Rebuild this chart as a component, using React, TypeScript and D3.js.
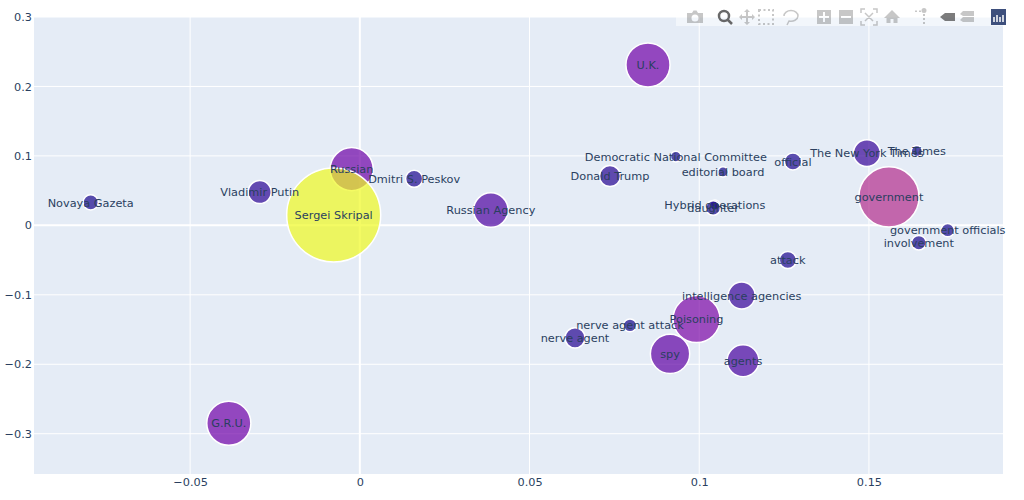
import { useRef, useEffect } from "react";
import * as d3 from "d3";

const WIDTH = 1024;
const HEIGHT = 500;
const margin = { top: 17, right: 21, bottom: 26, left: 34 };
const FONT = '"DejaVu Sans", verdana, arial, sans-serif';
const FONT_SIZE = "11.3px";
const INK = "#2a3f5f";

const labels = [
    "Novaya Gazeta", "Vladimir Putin", "Russian", "Sergei Skripal", "Dmitri S. Peskov",
    "Russian Agency", "U.K.", "G.R.U.", "Donald Trump", "Democratic National Committee",
    "editorial board", "official", "The New York Times", "The Times", "government",
    "Hybrid operations", "daughter", "government officials", "involvement", "attack",
    "intelligence agencies", "Poisoning", "nerve agent attack", "nerve agent", "spy", "agents",
];
const xValues = [
    -0.0793, -0.0295, -0.0024, -0.0077, 0.016,
    0.0386, 0.0849, -0.0386, 0.0737, 0.0931,
    0.107, 0.1276, 0.1494, 0.1641, 0.1559,
    0.1046, 0.1041, 0.1732, 0.1647, 0.1261,
    0.1125, 0.0992, 0.0796, 0.0634, 0.0914, 0.1129,
];
const yValues = [
    0.033, 0.048, 0.081, 0.015, 0.067,
    0.022, 0.231, -0.285, 0.071, 0.099,
    0.077, 0.092, 0.104, 0.107, 0.041,
    0.029, 0.025, -0.007, -0.025, -0.05,
    -0.101, -0.135, -0.144, -0.162, -0.185, -0.195,
];
const sizes = [
    2.6, 6, 21, 100, 3.3,
    13.5, 22, 22, 5, 1.3,
    1.2, 3.3, 8.2, 1.4, 41,
    1.2, 2.4, 2, 2.4, 3.3,
    8.2, 25, 1.9, 4.6, 17.5, 11.5,
];

const xTicks = [-0.05, 0, 0.05, 0.1, 0.15];
const yTicks = [-0.3, -0.2, -0.1, 0, 0.1, 0.2, 0.3];
const xDomain = [-0.096, 0.1895];
const yDomain = [-0.358, 0.3];

const plasma = ["#0d0887", "#46039f", "#7201a8", "#9c179e", "#bd3786", "#d8576b", "#ed7953", "#fb9f3a", "#fdca26", "#f0f921"];

const tickText = (d: number) => String(d).replace("-", "\u2212");

export default function App() {
    const svgRef = useRef<SVGSVGElement | null>(null);

    useEffect(() => {
        if (!svgRef.current) return;
        const svg = d3.select(svgRef.current);
        svg.selectAll("*").remove();

        const x = d3.scaleLinear().domain(xDomain).range([margin.left, WIDTH - margin.right]);
        const y = d3.scaleLinear().domain(yDomain).range([HEIGHT - margin.bottom, margin.top]);
        const r = d3.scaleSqrt().domain([0, 100]).range([0, 47]);
        const color = d3
            .scaleLinear<string>()
            .domain(plasma.map((_, i) => (i / (plasma.length - 1)) * 100))
            .range(plasma);

        svg.append("rect")
            .attr("x", margin.left)
            .attr("y", margin.top)
            .attr("width", WIDTH - margin.left - margin.right)
            .attr("height", HEIGHT - margin.top - margin.bottom)
            .attr("fill", "#E5ECF6");

        // grid
        const grid = svg.append("g").attr("stroke", "#fff");
        grid.selectAll("line.gx")
            .data(xTicks)
            .join("line")
            .attr("class", "gx")
            .attr("x1", (d) => x(d))
            .attr("x2", (d) => x(d))
            .attr("y1", margin.top)
            .attr("y2", HEIGHT - margin.bottom)
            .attr("stroke-width", (d) => (d === 0 ? 2 : 1));
        grid.selectAll("line.gy")
            .data(yTicks)
            .join("line")
            .attr("class", "gy")
            .attr("x1", margin.left)
            .attr("x2", WIDTH - margin.right)
            .attr("y1", (d) => y(d))
            .attr("y2", (d) => y(d))
            .attr("stroke-width", (d) => (d === 0 ? 2 : 1));

        // axes
        const xAxis = svg
            .append("g")
            .attr("transform", `translate(0,${HEIGHT - margin.bottom})`)
            .call(d3.axisBottom(x).tickValues(xTicks).tickFormat((d) => tickText(+d)).tickSize(0).tickPadding(4));
        const yAxis = svg
            .append("g")
            .attr("transform", `translate(${margin.left},0)`)
            .call(d3.axisLeft(y).tickValues(yTicks).tickFormat((d) => tickText(+d)).tickSize(0).tickPadding(2));
        [xAxis, yAxis].forEach((a) => {
            a.select(".domain").remove();
            a.selectAll("text").attr("fill", INK).style("font-family", FONT).style("font-size", FONT_SIZE);
        });

        // bubbles
        const idx = d3.range(labels.length);
        svg.append("g")
            .selectAll("circle")
            .data(idx)
            .join("circle")
            .attr("cx", (i) => x(xValues[i]))
            .attr("cy", (i) => y(yValues[i]))
            .attr("r", (i) => r(sizes[i]))
            .attr("fill", (i) => color(sizes[i]))
            .attr("fill-opacity", 0.7)
            .attr("stroke", "#fff")
            .attr("stroke-width", 1.5);

        svg.append("g")
            .selectAll("text")
            .data(idx)
            .join("text")
            .attr("x", (i) => x(xValues[i]))
            .attr("y", (i) => y(yValues[i]))
            .attr("dy", "0.36em")
            .attr("text-anchor", "middle")
            .attr("fill", INK)
            .style("font-family", FONT)
            .style("font-size", FONT_SIZE)
            .text((i) => labels[i]);

        // modebar
        const bar = svg.append("g");
        bar.append("rect")
            .attr("x", 676)
            .attr("y", 0)
            .attr("width", 333)
            .attr("height", 26)
            .attr("fill", "#fff")
            .attr("fill-opacity", 0.5);
        const gray = "rgba(68,68,68,0.3)";
        const icon = (cx: number, d: string, fill = gray, stroke = "none", sw = 1.5) =>
            bar.append("path")
                .attr("transform", `translate(${cx},17)`)
                .attr("d", d)
                .attr("fill", fill)
                .attr("stroke", stroke)
                .attr("stroke-width", stroke === "none" ? 0 : sw);
        icon(695, "M-8,-4H-3L-1.5,-6.5H1.5L3,-4H8V6H-8ZM0,-2.5A3.5,3.5 0 1,0 0,4.5A3.5,3.5 0 1,0 0,-2.5Z");
        icon(725, "M-1,-6A5,5 0 1,0 -1,4A5,5 0 1,0 -1,-6ZM3,3L7,7", "none", "rgba(68,68,68,0.8)", 2.5);
        icon(747, "M0,-8L3,-5H1V-1H5V-3L8,0L5,3V1H1V5H3L0,8L-3,5H-1V1H-5V3L-8,0L-5,-3V-1H-1V-5H-3Z");
        bar.append("rect")
            .attr("x", 759)
            .attr("y", 10)
            .attr("width", 14)
            .attr("height", 14)
            .attr("fill", "none")
            .attr("stroke", gray)
            .attr("stroke-width", 2)
            .attr("stroke-dasharray", "2 2.5");
        icon(791, "M-7,-1A7,5.5 0 1,1 7,-1A7,5.5 0 0,1 -2,4L-4,8", "none", gray);
        icon(824, "M-7,-7H7V7H-7ZM-1,-5V-1H-5V1H-1V5H1V1H5V-1H1V-5Z");
        icon(846, "M-7,-7H7V7H-7ZM-5,-1V1H5V-1Z");
        icon(869, "M-8,-4V-8H-4M4,-8H8V-4M8,4V8H4M-4,8H-8V4M-4,-4L4,4M4,-4L-4,4", "none", gray);
        icon(892, "M0,-7L8,1H5.5V6H1.5V2H-1.5V6H-5.5V1H-8Z");
        icon(923, "M-8,-6.5H-6V-5H-8ZM-4,-6.5H-2V-5H-4ZM1,-4A2.5,2.5 0 1,0 1,-9A2.5,2.5 0 1,0 1,-4ZM0,-3H2V-1H0ZM0,1H2V3H0ZM0,5H2V7H0Z");
        icon(947, "M-7,0L-2,-4H8V4H-2Z", "rgba(68,68,68,0.7)");
        icon(967, "M-7,-3L-4,-6H7V-1H-4ZM-7,3L-4,0H7V5H-4Z");
        bar.append("rect")
            .attr("x", 991)
            .attr("y", 9)
            .attr("width", 15)
            .attr("height", 16)
            .attr("fill", "#3d4f7c");
        bar.selectAll("line.logo")
            .data(d3.range(4))
            .join("line")
            .attr("class", "logo")
            .attr("x1", (d) => 994 + d * 3)
            .attr("x2", (d) => 994 + d * 3)
            .attr("y1", (d) => (d % 2 ? 15 : 17))
            .attr("y2", 22)
            .attr("stroke", "#fff")
            .attr("stroke-width", 1.5);
    }, []);

    return (
        <svg
            ref={svgRef}
            width={WIDTH}
            height={HEIGHT}
            style={{ position: "absolute", left: 0, top: 0, background: "#fff" }}
        />
    );
}
